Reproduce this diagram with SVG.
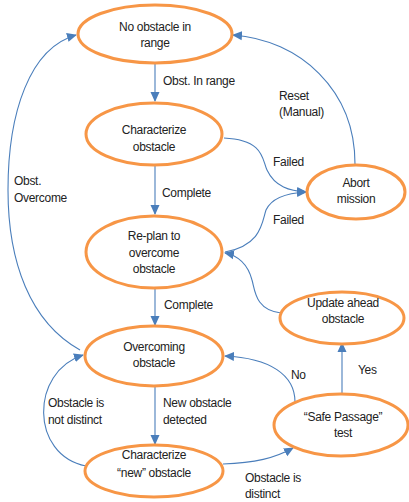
<svg xmlns="http://www.w3.org/2000/svg" width="409" height="502" viewBox="0 0 409 502">
<style>
.node ellipse{fill:#fff;stroke:#F79646;stroke-width:3}
.node text,.lbl{font-family:"Liberation Sans",Arial,sans-serif;font-size:12px;fill:#222;letter-spacing:-0.3px}
.node text{text-anchor:middle}
.edge{fill:none;stroke:#4A7EBB;stroke-width:1.1;marker-end:url(#ah)}
</style>
<defs>
<marker id="ah" markerUnits="userSpaceOnUse" markerWidth="10" markerHeight="10" viewBox="0 0 10 10" refX="9" refY="5" orient="auto">
<path d="M0,0.5 L10,5 L0,9.5 Z" fill="#4A7EBB"/>
</marker>
</defs>
<rect width="409" height="502" fill="#fff"/>
<g id="connectors">
<path class="edge" d="M155,63 L155,101"/>
<path class="edge" d="M155,165 L155,214"/>
<path class="edge" d="M155,288 L155,325"/>
<path class="edge" d="M155,387 L155,444"/>
<path class="edge" d="M80,350 C30,322 8,262 8,190 C8,112 30,48 76,35"/>
<path class="edge" d="M86,466 C30,455 30,372 83,355"/>
<path class="edge" d="M224,138 C265,140 262,160 267,170 C275,187 290,191 306,192"/>
<path class="edge" d="M225,252 C262,245 262,222 266,210 C272,197 288,193 306,192"/>
<path class="edge" d="M281,313 C255,310 255,290 252,280 C248,265 240,256 225,253"/>
<path class="edge" d="M355,164 C355,90 300,40 233,35"/>
<path class="edge" d="M342,393 L342,343"/>
<path class="edge" d="M295,402 C295,375 270,358 225,356"/>
<path class="edge" d="M223,464 C255,463 275,458 293,448"/>
</g>
<g id="labels">
<text class="lbl" x="163" y="85">Obst. In range</text>
<text class="lbl" x="162" y="197">Complete</text>
<text class="lbl" x="164" y="309">Complete</text>
<text class="lbl" x="163" y="407">New obstacle</text>
<text class="lbl" x="163" y="424">detected</text>
<text class="lbl" x="48" y="407">Obstacle is</text>
<text class="lbl" x="48" y="424">not distinct</text>
<text class="lbl" x="14" y="185">Obst.</text>
<text class="lbl" x="14" y="202">Overcome</text>
<text class="lbl" x="279" y="100">Reset</text>
<text class="lbl" x="279" y="116">(Manual)</text>
<text class="lbl" x="273" y="166">Failed</text>
<text class="lbl" x="273" y="224">Failed</text>
<text class="lbl" x="358" y="374">Yes</text>
<text class="lbl" x="291" y="379">No</text>
<text class="lbl" x="245" y="482">Obstacle is</text>
<text class="lbl" x="245" y="498">distinct</text>
</g>
<g id="n1" class="node"><ellipse cx="155" cy="34" rx="77" ry="29"/><text x="155" y="31">No obstacle in</text><text x="155" y="47">range</text></g>
<g id="n2" class="node"><ellipse cx="154" cy="134" rx="68" ry="31"/><text x="154" y="134">Characterize</text><text x="154" y="151">obstacle</text></g>
<g id="n3" class="node"><ellipse cx="154" cy="252" rx="68" ry="36"/><text x="154" y="240">Re-plan to</text><text x="154" y="257">overcome</text><text x="154" y="273">obstacle</text></g>
<g id="n4" class="node"><ellipse cx="154" cy="356" rx="69" ry="30"/><text x="154" y="351">Overcoming</text><text x="154" y="367">obstacle</text></g>
<g id="n5" class="node"><ellipse cx="154" cy="471" rx="69" ry="26"/><text x="154" y="459">Characterize</text><text x="154" y="477">“new” obstacle</text></g>
<g id="n6" class="node"><ellipse cx="356" cy="192" rx="49" ry="27"/><text x="356" y="187">Abort</text><text x="356" y="203">mission</text></g>
<g id="n7" class="node"><ellipse cx="342" cy="318" rx="62" ry="26"/><text x="343" y="307">Update ahead</text><text x="343" y="323">obstacle</text></g>
<g id="n8" class="node"><ellipse cx="341" cy="425" rx="67" ry="31"/><text x="343" y="421">“Safe Passage”</text><text x="343" y="437">test</text></g>
</svg>
